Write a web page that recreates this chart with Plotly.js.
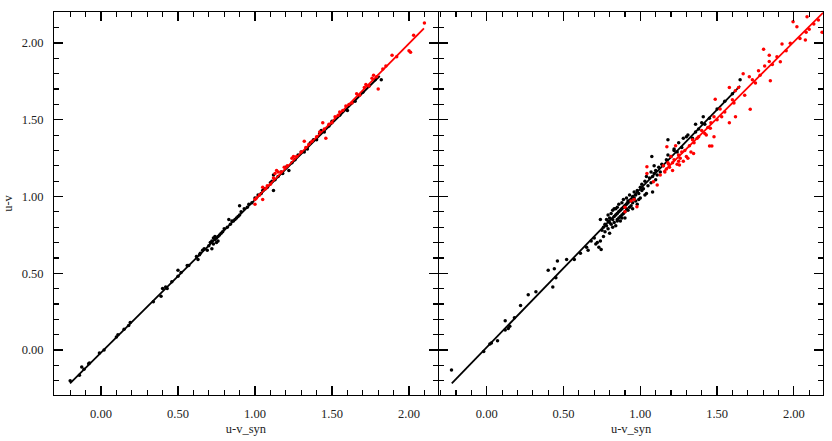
<!DOCTYPE html>
<html>
<head>
<meta charset="utf-8">
<script src="https://cdn.plot.ly/plotly-3.0.1.min.js"></script>
<style>
  body { margin: 0; background: #fff; }
  #chart { width: 832px; height: 441px; }
</style>
</head>
<body>
<div id="chart"></div>
<script>
// left panel: black points
var leftBlackX = [-0.20,-0.14,-0.125,-0.11,-0.08,-0.075,-0.01,0.02,0.10,0.11,0.15,0.18,0.19,0.34,0.39,0.40,0.42,0.43,0.46,0.50,0.50,0.52,0.56,0.57,0.62,0.63,0.64,0.645,0.66,0.67,0.69,0.70,0.71,0.72,0.72,0.73,0.73,0.74,0.74,0.75,0.75,0.76,0.76,0.77,0.78,0.79,0.80,0.82,0.83,0.84,0.85,0.86,0.87,0.88,0.89,0.90,0.90,0.91,0.93,0.95,0.96,0.98,1.00,1.02,1.04,1.05,1.06,1.08,1.10,1.11,1.12,1.12,1.13,1.15,1.17,1.18,1.20,1.22,1.24,1.26,1.28,1.30,1.32,1.34,1.36,1.38,1.40,1.42,1.43,1.45,1.48,1.50,1.55,1.60,1.65,1.70,1.74,1.78,1.82];
var leftBlackY = [-0.20,-0.165,-0.11,-0.125,-0.09,-0.085,-0.02,0.00,0.085,0.10,0.135,0.16,0.18,0.315,0.35,0.40,0.41,0.40,0.445,0.48,0.52,0.505,0.55,0.55,0.61,0.59,0.62,0.63,0.65,0.66,0.65,0.68,0.70,0.71,0.66,0.73,0.69,0.72,0.74,0.70,0.73,0.74,0.71,0.75,0.76,0.77,0.79,0.80,0.85,0.82,0.84,0.84,0.85,0.86,0.87,0.94,0.88,0.90,0.92,0.93,0.95,0.96,0.99,1.01,1.02,1.04,1.05,1.06,1.09,1.10,1.04,1.14,1.11,1.13,1.16,1.15,1.19,1.17,1.22,1.24,1.27,1.29,1.29,1.31,1.35,1.37,1.37,1.41,1.43,1.42,1.46,1.49,1.53,1.56,1.62,1.68,1.72,1.76,1.76];

// left panel: red points
var leftRedX = [1.00,1.00,1.01,1.03,1.05,1.05,1.07,1.08,1.10,1.12,1.13,1.14,1.15,1.17,1.19,1.21,1.24,1.25,1.27,1.30,1.32,1.33,1.35,1.37,1.40,1.42,1.44,1.45,1.46,1.48,1.50,1.52,1.54,1.55,1.57,1.59,1.61,1.63,1.66,1.68,1.71,1.72,1.74,1.76,1.77,1.79,1.80,1.83,1.85,1.89,1.92,2.00,2.01,2.03,2.10];
var leftRedY = [0.95,0.98,0.99,1.01,0.98,1.06,1.05,1.07,1.08,1.12,1.15,1.17,1.16,1.16,1.19,1.20,1.25,1.26,1.26,1.29,1.36,1.32,1.34,1.36,1.39,1.42,1.48,1.44,1.38,1.47,1.48,1.52,1.53,1.55,1.56,1.59,1.60,1.61,1.67,1.66,1.71,1.73,1.72,1.77,1.79,1.78,1.70,1.83,1.85,1.92,1.91,1.95,1.94,2.05,2.13];

// left panel fit lines (end points)
var leftBlackLineX = [-0.201, 1.81];
var leftBlackLineY = [-0.217, 1.785];
var leftRedLineX = [0.996, 2.097];
var leftRedLineY = [0.977, 2.096];

// right panel: black points
var rightBlackX = [-0.23,-0.02,0.02,0.03,0.07,0.12,0.12,0.14,0.15,0.18,0.22,0.27,0.32,0.40,0.44,0.43,0.45,0.46,0.52,0.57,0.61,0.65,0.66,0.68,0.70,0.71,0.73,0.74,0.745,
  0.75,0.76,0.76,0.77,0.77,0.78,0.78,0.79,0.79,0.80,0.80,0.80,0.81,0.81,0.82,0.82,0.82,0.83,0.83,0.84,0.84,0.84,0.85,0.85,0.85,0.86,0.86,0.86,0.87,0.87,0.87,0.88,0.88,0.88,0.89,0.89,0.89,0.90,0.90,0.90,0.91,0.91,0.91,0.92,0.92,0.93,0.93,0.93,0.94,0.94,0.95,0.95,0.96,0.96,0.97,0.97,0.98,0.98,0.99,1.00,1.00,1.01,1.02,1.03,1.03,1.04,1.05,1.06,1.07,1.07,1.075,1.08,1.08,1.09,1.09,1.10,1.10,1.11,1.12,1.13,1.14,1.15,1.17,1.18,1.18,1.20,1.22,1.22,1.24,1.25,1.27,1.28,1.30,1.31,1.34,1.36,1.36,1.38,1.40,1.41,1.42,1.45,1.50,1.55,1.60,1.65,
  0.72,0.74,0.79,0.85,0.83,0.88,0.92,0.95,0.99,1.01,1.04];
var rightBlackY = [-0.13,-0.01,0.04,0.045,0.06,0.19,0.13,0.14,0.155,0.21,0.29,0.36,0.38,0.52,0.53,0.41,0.47,0.58,0.59,0.59,0.63,0.67,0.65,0.71,0.73,0.69,0.67,0.85,0.655,
  0.78,0.80,0.74,0.82,0.77,0.81,0.85,0.79,0.88,0.83,0.86,0.76,0.82,0.89,0.85,0.80,0.91,0.87,0.83,0.88,0.92,0.81,0.89,0.85,0.93,0.90,0.86,0.95,0.91,0.87,0.84,0.92,0.96,0.88,0.93,0.89,0.98,0.94,0.90,0.86,0.95,0.92,0.99,0.96,0.91,0.97,0.93,1.01,0.98,0.94,1.00,0.96,0.99,1.03,0.97,1.01,1.04,0.95,1.02,1.06,0.99,1.08,1.05,1.10,1.01,1.13,1.07,1.12,1.09,1.16,1.26,1.13,1.03,1.15,1.20,1.17,1.11,1.14,1.19,1.16,1.21,1.20,1.24,1.27,1.37,1.26,1.30,1.31,1.29,1.35,1.32,1.38,1.39,1.40,1.38,1.47,1.42,1.44,1.48,1.52,1.47,1.51,1.57,1.62,1.67,1.76,
  0.70,0.71,0.84,0.84,0.92,0.86,0.97,0.92,0.98,1.04,1.02];

// right panel: red points
var rightRedX = [0.90,0.90,0.94,0.96,0.978,1.043,1.043,1.085,1.11,1.15,1.17,1.185,1.20,1.21,1.23,1.173,1.249,1.255,1.16,1.18,1.19,1.22,1.24,1.26,1.27,1.28,1.29,1.30,1.32,1.33,1.347,1.35,1.37,1.38,1.40,1.42,1.44,1.451,1.456,1.466,1.48,1.48,1.488,1.50,1.52,1.53,1.55,1.58,1.58,1.60,1.61,1.619,1.62,1.64,1.67,1.68,1.71,1.716,1.73,1.75,1.77,1.78,1.81,1.803,1.84,1.84,1.847,1.86,1.89,1.912,1.923,1.95,1.977,1.995,2.02,2.04,2.075,2.08,2.086,2.10,2.13,2.16,2.184,1.13,1.21,1.25,1.31,1.34,1.43,1.46];
var rightRedY = [0.93,0.90,0.97,0.98,0.933,1.194,1.15,1.096,1.075,1.20,1.18,1.21,1.26,1.22,1.33,1.324,1.27,1.205,1.16,1.22,1.19,1.24,1.21,1.25,1.29,1.23,1.30,1.26,1.33,1.29,1.281,1.35,1.38,1.39,1.43,1.41,1.45,1.329,1.444,1.329,1.39,1.52,1.633,1.50,1.57,1.52,1.55,1.71,1.48,1.63,1.61,1.689,1.52,1.71,1.80,1.66,1.78,1.568,1.76,1.74,1.82,1.79,1.85,1.959,1.88,1.92,1.754,1.86,1.91,1.878,1.993,1.95,1.998,2.139,2.106,2.03,2.02,2.07,2.171,2.09,2.124,2.15,2.07,1.14,1.17,1.23,1.25,1.37,1.40,1.48];

// right panel fit lines (end points)
var rightBlackLineX = [-0.228, 1.65];
var rightBlackLineY = [-0.217, 1.72];
var rightRedLineX = [1.15, 2.19];
var rightRedLineY = [1.16, 2.197];

var xTitle = "u-v_syn";
var yTitle = "u-v";

function dots(x, y, color, xa, ya) {
  return {
    x: x, y: y, xaxis: xa, yaxis: ya,
    mode: 'markers', type: 'scatter',
    marker: { color: color, size: 3.5 },
    hoverinfo: 'skip'
  };
}

function fit(x, y, color, xa, ya) {
  return {
    x: x, y: y, xaxis: xa, yaxis: ya,
    mode: 'lines', type: 'scatter',
    line: { color: color, width: 1.8 },
    hoverinfo: 'skip'
  };
}

var data = [
  dots(leftBlackX, leftBlackY, '#000', 'x', 'y'),
  fit(leftBlackLineX, leftBlackLineY, '#000', 'x', 'y'),
  dots(leftRedX, leftRedY, '#ff0000', 'x', 'y'),
  fit(leftRedLineX, leftRedLineY, '#ff0000', 'x', 'y'),
  dots(rightBlackX, rightBlackY, '#000', 'x2', 'y2'),
  fit(rightBlackLineX, rightBlackLineY, '#000', 'x2', 'y2'),
  dots(rightRedX, rightRedY, '#ff0000', 'x2', 'y2'),
  fit(rightRedLineX, rightRedLineY, '#ff0000', 'x2', 'y2')
];

var font = { family: "'Liberation Serif', serif", size: 12.5, color: '#222' };

function axis(extra) {
  var a = {
    showline: true, linecolor: '#000', linewidth: 1, mirror: 'ticks',
    ticks: 'inside', ticklen: 9, tickwidth: 1.2, tickcolor: '#000',
    dtick: 0.5, tick0: 0, tickformat: '.2f',
    minor: { ticks: 'inside', ticklen: 5, dtick: 0.1, tickcolor: '#000', tickwidth: 1.2, showgrid: false },
    showgrid: false, zeroline: false, layer: 'above traces',
    ticklabelstandoff: 7,
    tickfont: font
  };
  for (var k in extra) a[k] = extra[k];
  return a;
}

var layout = {
  width: 832, height: 441,
  margin: { l: 54, r: 9, t: 12, b: 46 },
  paper_bgcolor: '#fff', plot_bgcolor: '#fff',
  showlegend: false,
  font: font,
  xaxis: axis({ domain: [0, 0.4993], range: [-0.305, 2.188], anchor: 'y',
    title: { text: xTitle, font: font, standoff: 4 } }),
  xaxis2: axis({ domain: [0.5007, 1], range: [-0.311, 2.19], anchor: 'y2',
    title: { text: xTitle, font: font, standoff: 4 } }),
  yaxis: axis({ range: [-0.293, 2.202], anchor: 'x',
    title: { text: yTitle, font: font, standoff: 6 } }),
  yaxis2: axis({ range: [-0.293, 2.202], anchor: 'x2', showticklabels: false })
};

Plotly.newPlot('chart', data, layout, { displayModeBar: false, staticPlot: true });
</script>
</body>
</html>
